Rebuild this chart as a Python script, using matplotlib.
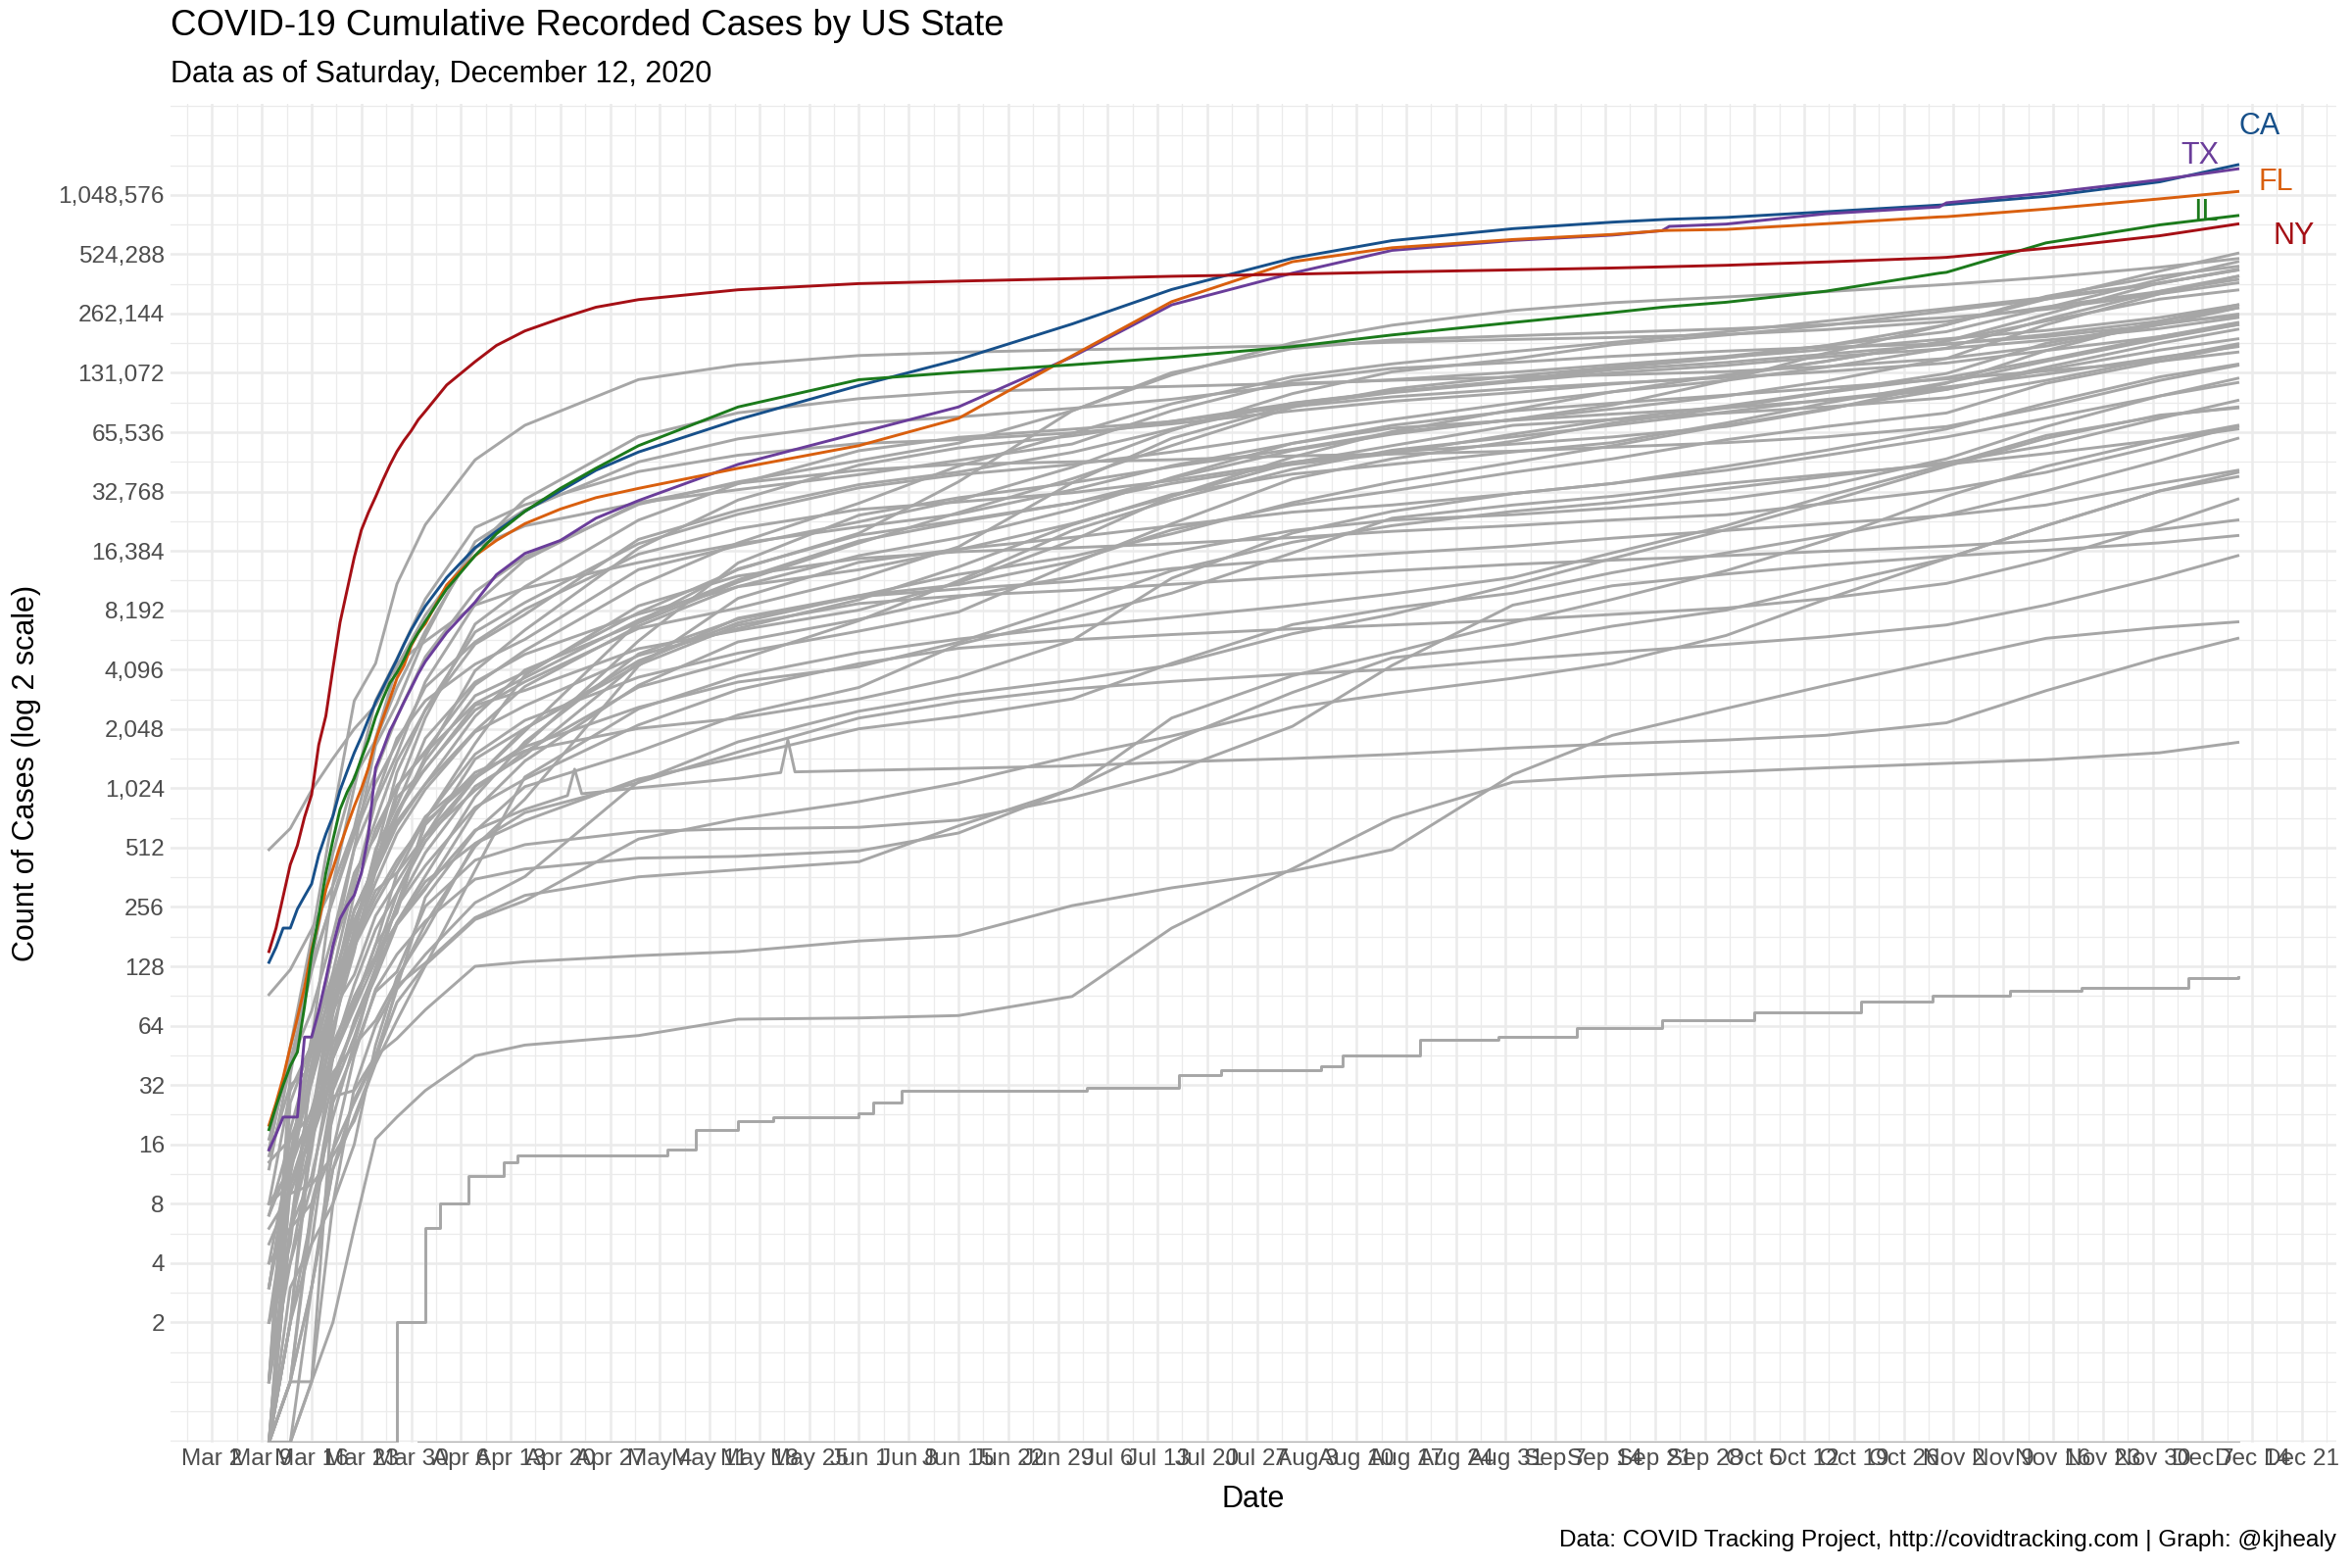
import numpy as np
import matplotlib
matplotlib.use("Agg")
import matplotlib.pyplot as plt
import matplotlib.dates as mdates
from matplotlib.ticker import FixedLocator, FuncFormatter, NullFormatter

plt.rcParams['font.family'] = ['Liberation Sans', 'DejaVu Sans']

# ---------------- data (cumulative positive cases) ----------------
DATES = ["2020-03-10", "2020-03-13", "2020-03-16", "2020-03-19", "2020-03-22", "2020-03-25",
         "2020-03-28", "2020-04-01", "2020-04-08", "2020-04-15", "2020-05-01", "2020-05-15",
         "2020-06-01", "2020-06-15", "2020-07-01", "2020-07-15", "2020-08-01", "2020-08-15",
         "2020-09-01", "2020-09-15", "2020-10-01", "2020-10-15", "2020-11-01", "2020-11-15",
         "2020-12-01", "2020-12-12"]

# highlighted states: daily through March, then sparser
HL_DATES = ["2020-03-10", "2020-03-11", "2020-03-12", "2020-03-13", "2020-03-14", "2020-03-15",
            "2020-03-16", "2020-03-17", "2020-03-18", "2020-03-19", "2020-03-20", "2020-03-21",
            "2020-03-22", "2020-03-23", "2020-03-24", "2020-03-25", "2020-03-26", "2020-03-27",
            "2020-03-28", "2020-03-29", "2020-03-30", "2020-03-31",
            "2020-04-01", "2020-04-04", "2020-04-08", "2020-04-11", "2020-04-15", "2020-04-20",
            "2020-04-25", "2020-05-01", "2020-05-15", "2020-06-01", "2020-06-15", "2020-07-01",
            "2020-07-15", "2020-08-01", "2020-08-15", "2020-09-01", "2020-09-15", "2020-09-22",
            "2020-09-23", "2020-10-01", "2020-10-15", "2020-10-31", "2020-11-01", "2020-11-15",
            "2020-12-01", "2020-12-12"]
CA = [134, 160, 200, 200, 250, 290, 335, 470, 600, 740, 1000, 1250, 1550, 1870, 2300, 2800,
      3300, 3900, 4600, 5500, 6500, 7500,
      8600, 12000, 17000, 20600, 26000, 33000, 42000, 52000, 76000, 113000, 153000, 232000,
      347000, 500000, 614000, 706000, 762000, 785000, 788000, 805000, 860000, 930000, 935000,
      1030000, 1220000, 1490000]
TX = [15, 18, 22, 22, 22, 56, 56, 76, 110, 163, 223, 260, 294, 380, 600, 1300, 1600, 2000,
      2350, 2800, 3300, 3900,
      4500, 6300, 9000, 12400, 15900, 18500, 24000, 29500, 45000, 65000, 88000, 158000,
      290000, 420000, 548000, 615000, 655000, 690000, 725000, 745000, 840000, 910000, 955000,
      1070000, 1250000, 1420000]
FL = [20, 26, 35, 50, 70, 100, 155, 216, 314, 400, 520, 660, 830, 1020, 1300, 1800, 2300,
      2900, 3700, 4300, 5400, 6300,
      7000, 11000, 15500, 18500, 22500, 26700, 30500, 34000, 43000, 56000, 77000, 160000,
      301000, 480000, 565000, 622000, 660000, 690000, 692000, 700000, 748000, 810000, 812000,
      888000, 1000000, 1090000]
IL = [19, 25, 32, 40, 47, 80, 147, 230, 380, 560, 800, 980, 1150, 1450, 1800, 2350, 2900,
      3500, 3950, 4600, 5500, 6300,
      7200, 10500, 15500, 20000, 26000, 34000, 43000, 56000, 88000, 121000, 132000, 144000,
      157000, 178000, 204000, 236000, 265000, 282000, 284000, 299000, 340000, 420000, 424000,
      598000, 738000, 823000]
NY = [152, 200, 290, 420, 525, 730, 950, 1700, 2380, 4150, 7100, 10400, 15200, 20900, 25700,
      30800, 37300, 44600, 52300, 59500, 66500, 75800,
      83700, 113700, 149300, 180500, 213800, 247500, 282100, 308300, 345800, 371700, 382600,
      394100, 404800, 415000, 425500, 436200, 446000, 452000, 453000, 460400, 478800, 503000,
      505100, 561300, 650000, 746000]

# other states and territories
NJ = [15, 50, 178, 742, 2844, 4402, 11124, 22255, 47437, 71030, 121190, 143905, 160445, 166605,
      171667, 174628, 180265, 187455, 193628, 198003, 205275, 216994, 239000, 283000, 339000, 390000]
WA = [500, 640, 1000, 1450, 2050, 2700, 4400, 5700, 8700, 10600, 14300, 17800, 21700, 25200,
      33400, 44300, 57500, 68700, 75300, 81000, 87000, 95000, 108000, 136000, 171000, 195000]
MA = [92, 123, 197, 328, 646, 1838, 4257, 7738, 16790, 29918, 62205, 82182, 96965, 105059,
      108667, 111827, 115926, 120078, 124761, 127906, 133000, 141000, 155000, 179000, 230000, 280000]
GA = [17, 42, 121, 287, 620, 1247, 2366, 4748, 10189, 15260, 28196, 36681, 47063, 57681,
      84237, 127834, 186352, 228668, 271595, 297405, 318000, 338000, 368000, 400000, 450000, 498000]
PA = [12, 41, 76, 185, 509, 1687, 2751, 6063, 18228, 26490, 46327, 60622, 72894, 78335,
      86606, 96288, 114000, 121000, 132000, 144000, 159000, 180000, 212000, 280000, 390000, 480000]
MI = [0, 12, 53, 334, 1035, 2856, 4650, 9334, 21504, 28059, 41379, 50079, 57397, 60064,
      64998, 72200, 84000, 94000, 104000, 115000, 126000, 150000, 190000, 260000, 375000, 435000]
OH = [3, 13, 50, 119, 351, 704, 1406, 2547, 5512, 7791, 18743, 26357, 35513, 41148,
      51789, 67995, 92089, 105426, 120000, 139000, 156000, 180000, 230000, 310000, 430000, 530000]
NC = [7, 17, 33, 97, 297, 636, 1040, 1584, 3426, 5123, 10923, 17981, 28589, 44119,
      64670, 91266, 125219, 145516, 168000, 187000, 212000, 240000, 278000, 316000, 374000, 436000]
TN = [1, 26, 52, 154, 505, 917, 1834, 2845, 4362, 5827, 13177, 17388, 23006, 29541,
      43509, 66788, 102871, 132681, 154000, 182000, 204000, 228000, 270000, 310000, 372000, 440000]
WI = [1, 19, 47, 155, 381, 585, 1055, 1550, 2756, 3721, 7314, 11685, 18403, 22932,
      28659, 38178, 52940, 64000, 76000, 90000, 120000, 165000, 230000, 320000, 405000, 455000]
IN = [1, 12, 24, 56, 201, 477, 1232, 2565, 6351, 8955, 17835, 25127, 34211, 39909,
      44930, 52000, 64000, 76000, 92000, 105000, 120000, 140000, 175000, 245000, 340000, 405000]
AZ = [6, 9, 18, 63, 152, 450, 773, 1413, 3018, 3962, 7962, 13169, 20123, 36705,
      84092, 131354, 174010, 192654, 202000, 210000, 219000, 230000, 250000, 275000, 330000, 405000]
MN = [3, 14, 54, 115, 169, 287, 441, 689, 1154, 1695, 5730, 14240, 24850, 30471,
      36303, 43742, 53692, 65152, 76000, 86000, 100000, 119000, 155000, 230000, 330000, 375000]
MO = [1, 4, 15, 73, 184, 502, 838, 1834, 3539, 4895, 7835, 10789, 13147, 16600,
      22508, 31000, 49000, 66000, 85000, 105000, 128000, 150000, 190000, 240000, 310000, 345000]
AL = [0, 6, 36, 78, 157, 386, 694, 1077, 2369, 4075, 7068, 11373, 17952, 25615,
      38045, 56000, 87723, 108433, 126058, 140000, 157000, 172000, 195000, 215000, 250000, 290000]
CO = [15, 49, 131, 277, 591, 1086, 1734, 3342, 5655, 8280, 15768, 21232, 26577, 29002,
      32307, 37242, 46204, 52000, 57000, 62000, 70000, 85000, 116000, 170000, 240000, 290000]
VA = [8, 30, 51, 94, 219, 391, 739, 1484, 4042, 6500, 16901, 29683, 44607, 54506,
      62787, 74431, 91782, 104838, 119000, 136000, 148000, 163000, 183000, 205000, 240000, 280000]
LA = [1, 36, 136, 479, 1172, 1795, 3315, 6424, 17030, 21951, 28711, 33489, 39916, 47172,
      57081, 84131, 119747, 138000, 148000, 159000, 169000, 177000, 184000, 200000, 230000, 260000]
IA = [13, 17, 23, 44, 90, 145, 298, 549, 1145, 1995, 7145, 13289, 19670, 23350,
      28671, 36000, 45000, 51000, 64000, 76000, 89000, 105000, 130000, 185000, 235000, 255000]
SC = [7, 13, 33, 81, 195, 424, 774, 1293, 2552, 3553, 6626, 8407, 11861, 17170,
      36297, 61000, 90000, 104000, 118000, 131000, 143000, 158000, 174000, 192000, 220000, 250000]
OK = [2, 4, 10, 44, 81, 164, 377, 719, 1524, 2263, 3748, 4962, 6418, 8027,
      14112, 22480, 38000, 48000, 59000, 73000, 87000, 104000, 124000, 153000, 200000, 236000]
UT = [2, 5, 39, 112, 181, 340, 602, 1012, 1976, 2683, 4828, 6620, 9264, 13577,
      22217, 31662, 40196, 45000, 52000, 58000, 73000, 92000, 117000, 150000, 195000, 230000]
MD = [8, 12, 41, 107, 245, 423, 992, 2331, 6968, 10784, 23472, 35903, 52778, 61701,
      67918, 74260, 88346, 99000, 109000, 116000, 124000, 133000, 147000, 170000, 200000, 230000]
KY = [8, 10, 21, 47, 103, 197, 302, 591, 1149, 2048, 4539, 7080, 9704, 12445,
      15347, 20000, 28800, 36600, 46000, 56000, 71000, 86000, 108000, 140000, 185000, 218000]
KS = [1, 6, 11, 34, 64, 126, 261, 482, 1046, 1504, 4449, 7467, 9719, 11047,
      14443, 20933, 28000, 33000, 41000, 48000, 60000, 70000, 82000, 116000, 150000, 180000]
AR = [0, 6, 22, 96, 174, 310, 381, 584, 1000, 1569, 3337, 4578, 7253, 11547,
      20777, 29733, 42511, 53077, 62000, 71000, 83000, 96000, 111000, 129000, 157000, 178000]
NV = [4, 14, 56, 109, 245, 420, 920, 1279, 2700, 3211, 5227, 6475, 8208, 11290,
      18456, 31000, 45857, 56000, 71000, 76000, 82000, 88000, 98000, 120000, 155000, 184000]
MS = [0, 2, 21, 80, 249, 386, 663, 1073, 2003, 3360, 6815, 10801, 15501, 19091,
      26567, 38567, 57579, 71000, 84000, 92000, 101000, 110000, 122000, 134000, 150000, 167000]
CT = [2, 11, 41, 159, 327, 875, 1524, 3557, 8781, 14755, 28764, 36085, 42022, 45088,
      46362, 47530, 49670, 50782, 52495, 55000, 58000, 62000, 70000, 88000, 120000, 143000]
NE = [3, 10, 18, 37, 51, 68, 108, 210, 519, 901, 4281, 9416, 14345, 16726,
      19177, 21971, 25766, 28000, 32000, 36000, 44000, 53000, 68000, 92000, 125000, 145000]
NM = [0, 10, 17, 35, 65, 112, 208, 315, 794, 1407, 3411, 5662, 7364, 9526,
      12147, 16138, 20796, 23500, 25000, 27000, 30000, 35000, 48000, 70000, 100000, 123000]
ID = [0, 2, 5, 31, 68, 123, 261, 669, 1232, 1587, 2061, 2324, 2906, 3743,
      5752, 11906, 20180, 26000, 32000, 36000, 42000, 50000, 62000, 77000, 100000, 117000]
OR = [14, 32, 39, 88, 161, 266, 414, 736, 1181, 1663, 2635, 3541, 4243, 5636,
      8656, 13000, 18131, 22000, 26000, 28800, 34000, 39000, 46000, 56000, 77000, 95000]
SD = [5, 9, 10, 14, 21, 41, 68, 129, 393, 1168, 2588, 3792, 4993, 5848,
      6764, 7524, 8641, 9900, 12000, 16000, 22000, 31000, 45000, 63000, 79000, 88000]
ND = [0, 1, 1, 28, 30, 45, 98, 147, 269, 365, 1107, 1761, 2520, 3062,
      3615, 4323, 6227, 7800, 11000, 15000, 21000, 29000, 44000, 61000, 80000, 87000]
MT = [0, 6, 8, 15, 45, 98, 147, 217, 354, 399, 453, 462, 493, 607,
      1016, 2326, 3814, 5000, 7100, 9300, 13000, 18500, 31000, 44000, 60000, 71000]
RI = [3, 14, 21, 44, 83, 165, 239, 711, 1727, 3838, 8621, 12219, 14991, 16213,
      17006, 17818, 19142, 20582, 22000, 23500, 25000, 28500, 33500, 41000, 56000, 70000]
PR = [0, 3, 5, 8, 31, 64, 100, 286, 620, 1043, 1575, 2410, 3324, 5500,
      7500, 10000, 16000, 24000, 28000, 31000, 36000, 40000, 45000, 51000, 60000, 68000]
WV = [0, 0, 1, 8, 16, 51, 113, 191, 537, 702, 1140, 1469, 2051, 2370,
      2905, 4407, 6929, 8400, 10000, 12700, 16000, 19500, 25000, 33000, 47000, 61000]
DE = [0, 1, 7, 30, 56, 119, 214, 368, 928, 1761, 4918, 7373, 9605, 10499,
      11474, 13337, 14788, 15900, 17300, 19000, 20800, 22500, 24800, 28000, 36000, 42000]
AK = [0, 1, 3, 12, 22, 42, 102, 133, 226, 293, 364, 395, 434, 660,
      1017, 1778, 3136, 4700, 5500, 6800, 8200, 10900, 15000, 22000, 33000, 41000]
WY = [0, 1, 3, 15, 26, 44, 84, 130, 221, 275, 566, 716, 876, 1089,
      1487, 1885, 2629, 3100, 3700, 4400, 6100, 9300, 15000, 22000, 33000, 39000]
NH = [4, 6, 17, 44, 78, 137, 258, 415, 819, 1139, 2146, 3239, 4389, 5251,
      5802, 6165, 6583, 6899, 7300, 7800, 8400, 9400, 11200, 14800, 22000, 30000]
DC = [0, 10, 22, 77, 116, 231, 342, 586, 1440, 2058, 4323, 6871, 8857, 9703,
      10327, 11078, 12126, 13000, 14000, 14700, 15500, 16300, 17300, 18500, 21000, 23500]
ME = [0, 2, 17, 52, 89, 142, 211, 344, 537, 770, 1095, 1565, 2325, 2810,
      3268, 3566, 3888, 4100, 4600, 5000, 5500, 6000, 6900, 8700, 12000, 15500]
HI = [0, 2, 7, 26, 48, 95, 120, 258, 442, 530, 618, 638, 649, 706,
      917, 1243, 2112, 4300, 8700, 10900, 12500, 13900, 15400, 16500, 18000, 19600]
GU = [0, 0, 3, 12, 27, 45, 55, 77, 128, 135, 145, 152, 172, 183,
      260, 320, 390, 500, 1200, 1900, 2600, 3400, 4600, 5900, 6700, 7150]
VI = [0, 0, 1, 2, 6, 17, 22, 30, 45, 51, 57, 69, 70, 72,
      90, 200, 400, 720, 1100, 1180, 1240, 1300, 1370, 1430, 1550, 1750]

# series with their own dates (reporting glitches / step counts)
VT_DATES = ["2020-03-10", "2020-03-13", "2020-03-16", "2020-03-19", "2020-03-22", "2020-03-25",
            "2020-03-28", "2020-04-01", "2020-04-08", "2020-04-15", "2020-04-21", "2020-04-22",
            "2020-04-23", "2020-05-01", "2020-05-15", "2020-05-21", "2020-05-22", "2020-05-23",
            "2020-06-01", "2020-06-15", "2020-07-01", "2020-07-15", "2020-08-01", "2020-08-15",
            "2020-09-01", "2020-09-15", "2020-10-01", "2020-10-15", "2020-11-01", "2020-11-15",
            "2020-12-01", "2020-12-12"]
VT = [0, 1, 8, 22, 52, 123, 211, 321, 628, 800, 940, 1280, 960, 1030, 1150, 1230, 1800, 1240,
      1260, 1290, 1330, 1390, 1450, 1520, 1640, 1720, 1800, 1900, 2200, 3200, 4700, 5900]

MP_DATES = ["2020-03-10", "2020-03-27", "2020-03-28", "2020-03-31", "2020-04-01", "2020-04-03",
            "2020-04-07", "2020-04-12", "2020-04-14", "2020-05-05", "2020-05-09", "2020-05-15",
            "2020-05-20", "2020-06-01", "2020-06-03", "2020-06-07", "2020-07-03", "2020-07-13",
            "2020-07-16", "2020-07-22", "2020-08-05", "2020-08-08", "2020-08-19", "2020-08-30",
            "2020-09-10", "2020-09-22", "2020-10-05", "2020-10-20", "2020-10-30", "2020-11-10",
            "2020-11-20", "2020-12-05", "2020-12-12"]
MP = [0, 0, 2, 2, 6, 8, 11, 13, 14, 15, 19, 21, 22, 23, 26, 30, 31, 31, 36, 38, 40, 45,
      54, 56, 62, 68, 75, 85, 91, 96, 100, 112, 113]
AS_DATES = ["2020-03-31", "2020-12-12"]
AS = [0, 0]

GRAY_NAMES = ["NJ", "WA", "MA", "GA", "PA", "MI", "OH", "NC", "TN", "WI", "IN", "AZ", "MN",
              "MO", "AL", "CO", "VA", "LA", "IA", "SC", "OK", "UT", "MD", "KY", "KS", "AR",
              "NV", "MS", "CT", "NE", "NM", "ID", "OR", "SD", "ND", "MT", "RI", "PR", "WV",
              "DE", "AK", "WY", "NH", "DC", "ME", "HI", "GU", "VI"]
HIGHLIGHT = ["CA", "TX", "FL", "IL", "NY"]
HL_COLORS = ["#17508A", "#6A3D9A", "#D95F0E", "#1B7A1B", "#A50F15"]

series = {n: globals()[n] for n in GRAY_NAMES + HIGHLIGHT}
own_dates = {"VT": (VT_DATES, VT, "default"), "MP": (MP_DATES, MP, "steps-post"),
             "AS": (AS_DATES, AS, "default")}

# ---------------- figure ----------------
W, H = 2400, 1600
fig = plt.figure(figsize=(12, 8), dpi=200)
L, R, T, B = 174, 2384, 106, 1472
ax = fig.add_axes([L / W, 1 - B / H, (R - L) / W, (B - T) / H])

dnum = mdates.date2num(np.array(DATES, dtype="datetime64[D]"))
hnum = mdates.date2num(np.array(HL_DATES, dtype="datetime64[D]"))
allmax = max(max(v) for v in series.values())
lg = np.log2(allmax)
ymin, ymax = 2 ** (-0.05 * lg), 2 ** (1.05 * lg)
span = dnum[-1] - dnum[0]
ax.set_xlim(dnum[0] - 0.05 * span, dnum[-1] + 0.05 * span)
ax.set_yscale("log", base=2)
ax.set_ylim(ymin, ymax)

def prep(v):
    v = np.asarray(v, dtype=float)
    return np.where(v > 0, v, ymin)

GRAY = "#A6A6A6"
LW = 1.05
for n in GRAY_NAMES:
    ax.plot(dnum, prep(series[n]), color=GRAY, lw=LW, solid_joinstyle="round", zorder=2)
for n, (dd, vv, ds) in own_dates.items():
    ax.plot(mdates.date2num(np.array(dd, dtype="datetime64[D]")), prep(vv),
            color=GRAY, lw=LW, drawstyle=ds, solid_joinstyle="round", zorder=2)
for n, c in zip(HIGHLIGHT, HL_COLORS):
    ax.plot(hnum, prep(series[n]), color=c, lw=LW, solid_joinstyle="round", zorder=3)

# labels at the end of highlighted lines (offsets in points)
offsets = {"CA": (7.9, 14.1), "TX": (-14.1, 4.9), "FL": (14.0, 3.3), "IL": (-11.7, 1.1), "NY": (20.7, -4.4)}
for n, c in zip(HIGHLIGHT, HL_COLORS):
    ax.annotate(n, xy=(hnum[-1], series[n][-1]), xytext=offsets[n], textcoords="offset points",
                ha="center", va="center", color=c, fontsize=11, zorder=4)

# ---------------- axes styling (ggplot theme_minimal look) ----------------
x0, x1 = ax.get_xlim()
first_mon = mdates.date2num(np.datetime64("2020-03-02"))
majors_x = np.arange(first_mon, x1, 7.0)
majors_x = majors_x[majors_x >= x0]
minors_x = np.arange(first_mon - 3.5, x1, 3.5)
minors_x = minors_x[(minors_x >= x0) & (minors_x <= x1)]
ax.xaxis.set_major_locator(FixedLocator(majors_x))
ax.xaxis.set_minor_locator(FixedLocator(minors_x))
ax.xaxis.set_major_formatter(FuncFormatter(lambda v, p: mdates.num2date(v).strftime("%b ") + str(mdates.num2date(v).day)))

maj_y = [2.0 ** k for k in range(1, 21)]
min_y = [2.0 ** (k / 2) for k in range(-4, 46) if ymin <= 2.0 ** (k / 2) <= ymax]
ax.yaxis.set_major_locator(FixedLocator(maj_y))
ax.yaxis.set_minor_locator(FixedLocator(min_y))
ax.yaxis.set_major_formatter(FuncFormatter(lambda v, p: f"{int(round(v)):,}"))
ax.yaxis.set_minor_formatter(NullFormatter())

ax.grid(which="minor", color="#EBEBEB", lw=0.45, zorder=0)
ax.grid(which="major", color="#EBEBEB", lw=0.9, zorder=0)
ax.set_axisbelow(True)
for s in ax.spines.values():
    s.set_visible(False)
ax.tick_params(which="both", length=0)
ax.tick_params(axis="both", which="major", labelsize=8.8, labelcolor="#4D4D4D", pad=2.2)

# ---------------- text ----------------
fig.text(L / W, 1 - 27 / H, "COVID-19 Cumulative Recorded Cases by US State", fontsize=13.2,
         ha="left", va="center", color="black")
fig.text(L / W, 1 - 76 / H, "Data as of Saturday, December 12, 2020", fontsize=11,
         ha="left", va="center", color="black")
fig.text(R / W, 1 - 1572 / H, "Data: COVID Tracking Project, http://covidtracking.com | Graph: @kjhealy",
         fontsize=8.8, ha="right", va="center", color="black")
fig.text((L + R) / 2 / W, 1 - 1530 / H, "Date", fontsize=11, ha="center", va="center")
fig.text(27.5 / W, 1 - (T + B) / 2 / H, "Count of Cases (log 2 scale)", fontsize=11,
         ha="center", va="center", rotation=90)

fig.savefig("out.png", dpi=200, facecolor="white")
